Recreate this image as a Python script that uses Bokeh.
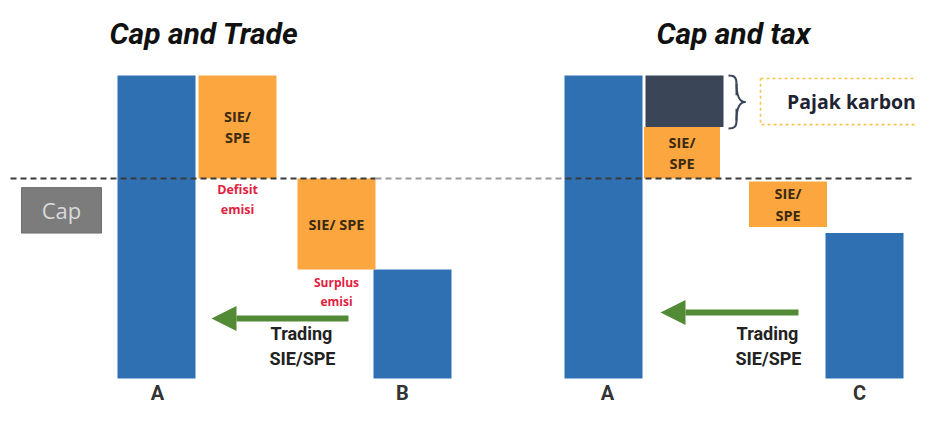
from bokeh.plotting import figure
from bokeh.models import ColumnDataSource, Range1d, Arrow, NormalHead
from bokeh.core.properties import value
from bokeh.embed import file_html
from bokeh.resources import INLINE

# ---------------- data (emission units, bar base = 0) ----------------
panel_titles = ["Cap and Trade", "Cap and tax"]
trade_categories = ["A", "B"]
trade_emissions = [100, 36]
trade_cap = 66
tax_categories = ["A", "C"]
tax_emissions = [100, 48]
tax_cap = 66
carbon_tax_block = [83, 100]        # bottom, top of "Pajak karbon" block
tax_allowance_block = [50, 65]      # bottom, top of second SIE/SPE block
deficit_label = ["Defisit", "emisi"]
surplus_label = ["Surplus", "emisi"]
trading_label = ["Trading", "SIE/SPE"]
tax_label = "Pajak karbon"
cap_label = "Cap"

# ---------------- colours / layout ----------------
BLUE = "#2E70B2"
ORANGE = "#FBA63F"
NAVY = "#3A4658"
GREEN = "#538A35"
RED = "#E2213F"

PXU = 3.03           # pixels per emission unit
W, H = 915, 405
BASE = 378           # pixel row of bar base
BW = 78              # bar width (px)

p = figure(width=W, height=H, output_backend="svg", toolbar_location=None,
           x_axis_type=None, y_axis_type=None, min_border=0,
           x_range=Range1d(0, W), y_range=Range1d(-(H - BASE) / PXU, BASE / PXU))
p.outline_line_color = None
p.grid.visible = False
p.background_fill_color = "white"

def u(px_row):
    """layout helper: pixel row -> emission units"""
    return (BASE - px_row) / PXU

# panel x-centres
LX = {"A": 156, "s1": 237, "s2": 336, "B": 412}
RX = {"A": 603, "t": 684, "s1": 681.5, "s2": 787.5, "C": 864}

# ---- emission bars
bars = ColumnDataSource(dict(
    left=[LX["A"] - BW / 2, LX["B"] - BW / 2, RX["A"] - BW / 2, RX["C"] - BW / 2],
    right=[LX["A"] + BW / 2, LX["B"] + BW / 2, RX["A"] + BW / 2, RX["C"] + BW / 2],
    bottom=[0, 0, 0, 0],
    top=[trade_emissions[0], trade_emissions[1], tax_emissions[0], tax_emissions[1]],
))
p.quad(left="left", right="right", bottom="bottom", top="top", source=bars,
       fill_color=BLUE, line_color=None)

# ---- allowance (SIE/SPE) blocks
blocks = ColumnDataSource(dict(
    left=[LX["s1"] - BW / 2, LX["s2"] - BW / 2, RX["s1"] - BW / 2 + 1, RX["s2"] - BW / 2],
    right=[LX["s1"] + BW / 2, LX["s2"] + BW / 2, RX["s1"] + BW / 2 - 1, RX["s2"] + BW / 2],
    bottom=[trade_cap, trade_emissions[1], tax_cap, tax_allowance_block[0]],
    top=[trade_emissions[0], trade_cap, carbon_tax_block[0], tax_allowance_block[1]],
))
p.quad(left="left", right="right", bottom="bottom", top="top", source=blocks,
       fill_color=ORANGE, line_color=None)

# ---- carbon tax block
p.quad(left=[RX["t"] - BW / 2], right=[RX["t"] + BW / 2],
       bottom=[carbon_tax_block[0]], top=[carbon_tax_block[1]],
       fill_color=NAVY, line_color=None)

# ---- cap line
p.segment(x0=[10, 375, 565], x1=[375, 565, 935], y0=[trade_cap] * 3, y1=[tax_cap] * 3,
          line_color=["#3A3A3A", "#9A9A9A", "#3A3A3A"], line_width=2, line_dash="6 4")

# ---- cap box
p.quad(left=[21], right=[101], bottom=[trade_cap - 18], top=[trade_cap - 3],
       fill_color="#7C7C7C", line_color="#6E6E6E", line_width=1)
p.text(x=[61], y=[trade_cap - 10.5], text=[cap_label], text_font=value("Open Sans"),
       text_font_size="22px", text_color="#DADADA", text_align="center", text_baseline="middle")

# ---- tax dashed box + brace
p.quad(left=[760], right=[940], bottom=[carbon_tax_block[0] + 0.8], top=[carbon_tax_block[1] - 1],
       fill_color=None, line_color="#F6C453", line_width=1.6, line_dash="3 3")
p.text(x=[851], y=[(carbon_tax_block[0] + carbon_tax_block[1]) / 2], text=[tax_label],
       text_font=value("Open Sans"), text_font_style="bold", text_font_size="19.5px",
       text_color="#1F2433", text_align="center", text_baseline="middle")
bt, bb = carbon_tax_block[1], carbon_tax_block[0] - 0.5
bm = (bt + bb) / 2
p.bezier(x0=[728, 736, 728, 736], y0=[bt, bt - 2.6, bb, bb + 2.6],
         x1=[736, 745, 736, 745], y1=[bt - 2.6, bm, bb + 2.6, bm],
         cx0=[734, 736, 734, 736], cy0=[bt, bm + 3, bb, bm - 3],
         cx1=[736, 738, 736, 738], cy1=[bt - 0.6, bm, bb + 0.6, bm],
         line_color=NAVY, line_width=2)
p.segment(x0=[736, 736], x1=[736, 736], y0=[bt - 2.6, bb + 2.6], y1=[bm + 2.2, bm - 2.2],
          line_color=NAVY, line_width=2)

# ---- texts inside blocks
blk_txt = ColumnDataSource(dict(
    x=[LX["s1"], LX["s1"], LX["s2"], RX["s1"], RX["s1"], RX["s2"], RX["s2"]],
    y=[(trade_cap + trade_emissions[0]) / 2 + 3.4, (trade_cap + trade_emissions[0]) / 2 - 3.6,
       (trade_cap + trade_emissions[1]) / 2 - 0.3,
       (tax_cap + carbon_tax_block[0]) / 2 + 3.4, (tax_cap + carbon_tax_block[0]) / 2 - 3.6,
       sum(tax_allowance_block) / 2 + 3.4, sum(tax_allowance_block) / 2 - 3.6],
    t=["SIE/", "SPE", "SIE/ SPE", "SIE/", "SPE", "SIE/", "SPE"],
))
p.text(x="x", y="y", text="t", source=blk_txt, text_font=value("Open Sans"),
       text_font_style="bold", text_font_size="14.5px", text_color="#3B2A12",
       text_align="center", text_baseline="middle")

# ---- red notes
red_txt = ColumnDataSource(dict(
    x=[LX["s1"], LX["s1"], LX["s2"], LX["s2"]],
    y=[trade_cap - 3.6, trade_cap - 10.2, trade_emissions[1] - 4.2, trade_emissions[1] - 10.5],
    t=deficit_label + surplus_label,
    s=["12.5px", "12.5px", "12px", "12px"],
))
p.text(x="x", y="y", text="t", source=red_txt, text_font=value("Open Sans"),
       text_font_style="bold", text_font_size="s", text_color=RED,
       text_align="center", text_baseline="middle")

# ---- trading arrows
for xs, xe, row in [(348, 211, 318), (798, 660, 312)]:
    p.add_layout(Arrow(end=NormalHead(size=25, fill_color=GREEN, line_color=GREEN, line_width=0),
                       x_start=xs, y_start=u(row), x_end=xe, y_end=u(row),
                       line_color=GREEN, line_width=6))

trd = ColumnDataSource(dict(
    x=[301, 302, 767, 768],
    y=[u(333), u(358), u(333), u(358)],
    t=trading_label + trading_label,
))
p.text(x="x", y="y", text="t", source=trd, text_font=value("Roboto"),
       text_font_style="bold", text_font_size="18px", text_color="#222222",
       text_align="center", text_baseline="middle")

# ---- category labels
cat = ColumnDataSource(dict(
    x=[157, 402, 607, 859],
    y=[u(392)] * 4,
    t=trade_categories + tax_categories,
))
p.text(x="x", y="y", text="t", source=cat, text_font=value("Roboto"),
       text_font_style="bold", text_font_size="20px", text_color="#333333",
       text_align="center", text_baseline="middle")

# ---- titles
p.text(x=[203.5, 733], y=[u(32.5), u(32.5)], text=panel_titles, text_font=value("Roboto"),
       text_font_style="bold italic", text_font_size="30px", text_color="#111111",
       text_align="center", text_baseline="middle")

open("out.html", "w").write(file_html(p, INLINE))
